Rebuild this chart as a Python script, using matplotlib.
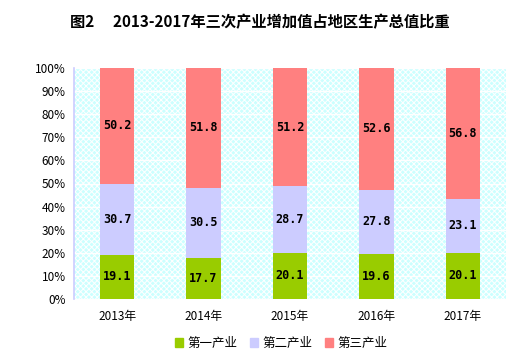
import matplotlib
matplotlib.use("Agg")
import matplotlib.pyplot as plt
import matplotlib.patches as mpatches
from matplotlib.ticker import FuncFormatter

plt.rcParams['font.family'] = ['Noto Sans CJK SC', 'DejaVu Sans']
plt.rcParams['hatch.color'] = 'white'
plt.rcParams['hatch.linewidth'] = 0.7

years = ['2013年', '2014年', '2015年', '2016年', '2017年']
primary = [19.1, 17.7, 20.1, 19.6, 20.1]
secondary = [30.7, 30.5, 28.7, 27.8, 23.1]
tertiary = [50.2, 51.8, 51.2, 52.6, 56.8]
series_names = ['第一产业', '第二产业', '第三产业']
colors = ['#99cc00', '#ccccff', '#ff8080']

fig = plt.figure(figsize=(5.2, 3.62), dpi=100)
ax = fig.add_axes([74/520, 1-299/362, 432/520, 231/362])

ax.set_facecolor('#ccffff')
bg = mpatches.Rectangle((0, 0), 1, 1, transform=ax.transAxes, facecolor='#ccffff',
                        edgecolor='white', hatch='xxxxxx', linewidth=0, zorder=0)
ax.add_patch(bg)

x = list(range(len(years)))
w = 0.4
ax.bar(x, primary, w, color=colors[0], label=series_names[0], zorder=3)
bottom2 = primary
ax.bar(x, secondary, w, bottom=bottom2, color=colors[1], label=series_names[1], zorder=3)
bottom3 = [p + s for p, s in zip(primary, secondary)]
ax.bar(x, tertiary, w, bottom=bottom3, color=colors[2], label=series_names[2], zorder=3)

for vals, bots in [(primary, [0]*5), (secondary, bottom2), (tertiary, bottom3)]:
    for i, (v, b) in enumerate(zip(vals, bots)):
        ax.text(i, b + v/2, f'{v:.1f}', ha='center', va='center', fontsize=8.5,
                fontweight='bold', color='black', zorder=4, family='DejaVu Sans Mono')

ax.set_xlim(-0.5, 4.5)
ax.set_ylim(0, 100)
ax.set_yticks(range(0, 101, 10))
ax.yaxis.set_major_formatter(FuncFormatter(lambda v, p: f'{int(v)}%'))
ax.grid(axis='y', color='white', linewidth=1, zorder=1)
ax.set_axisbelow(True)
ax.set_xticks(x)
ax.set_xticklabels(years, fontsize=8.5)
ax.tick_params(axis='y', labelsize=8.5, length=0, pad=6)
ax.tick_params(axis='x', length=0, pad=8)
for s in ['top', 'right', 'bottom']:
    ax.spines[s].set_visible(False)
ax.spines['left'].set_color('#ccccff')
ax.spines['left'].set_linewidth(1.2)

fig.suptitle('图2\u2003 2013-2017年三次产业增加值占地区生产总值比重', x=0.5, y=1-22/362,
             va='center', fontsize=11, fontweight='bold')

handles = [mpatches.Patch(color=c) for c in colors]
fig.legend(handles, series_names, loc='center', bbox_to_anchor=(0.54, 1-343/362), ncol=3,
           frameon=False, fontsize=9, handlelength=0.7, handleheight=0.7,
           handletextpad=0.3, columnspacing=1.0)

fig.savefig('out.png', dpi=100)
